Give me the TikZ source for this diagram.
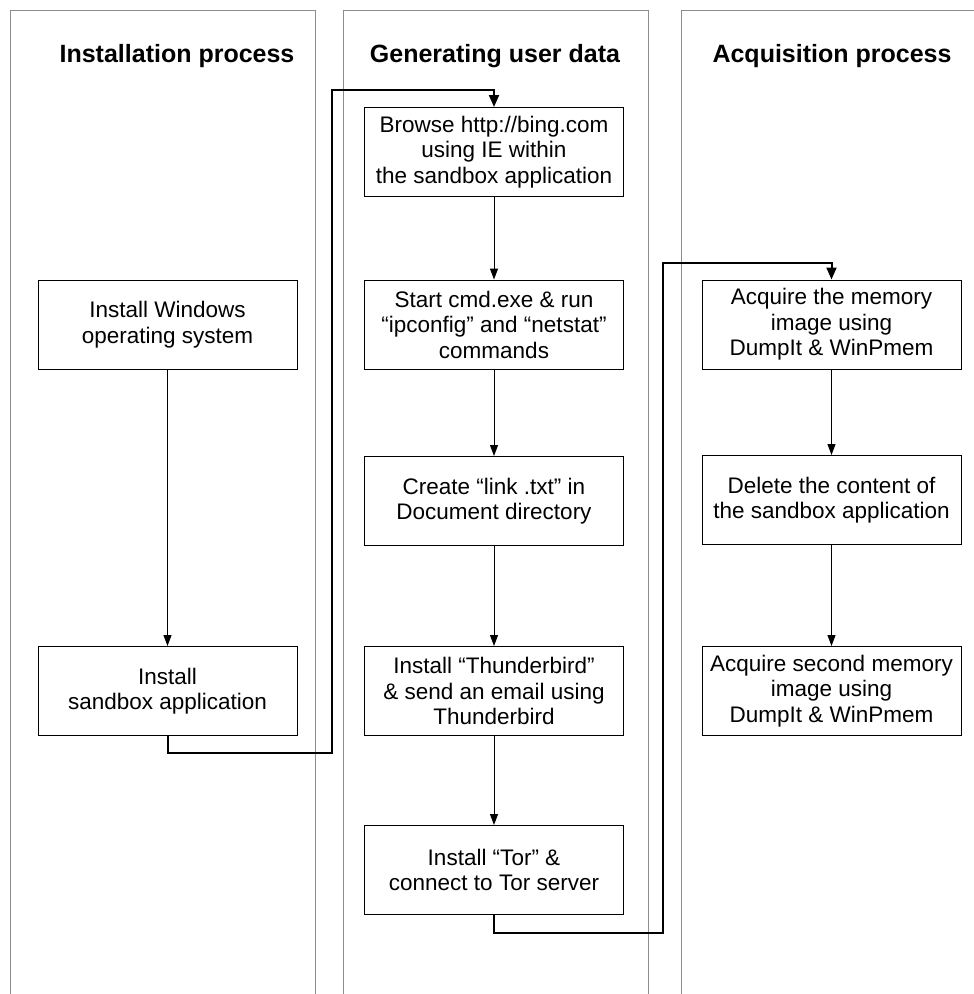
\documentclass[tikz,border=0pt]{standalone}
\usepackage{fontspec}
\setmainfont{Liberation Sans}
\usetikzlibrary{arrows.meta}
\begin{document}
\begin{tikzpicture}[x=1pt,y=-1pt,
  lane/.style={draw=black!45,line width=1pt},
  stepbox/.style={draw=black,line width=1pt,minimum width=259pt,minimum height=89pt,inner sep=0pt,align=center,font=\fontsize{22.5}{25.5}\selectfont},
  title/.style={font=\fontsize{25}{28}\selectfont\bfseries,inner sep=0pt},
  flow/.style={draw=black,line width=1pt,-{Triangle[length=11pt,width=8pt]}},
  link/.style={draw=black,line width=2pt,-{Triangle[length=12pt,width=10pt]},line join=miter}]
\useasboundingbox (0,0) rectangle (974,994);
% lanes
\draw[lane] (10,1000) -- (10,10) -- (315,10) -- (315,1000);
\draw[lane] (343,1000) -- (343,10) -- (648,10) -- (648,1000);
\draw[lane] (681,1000) -- (681,10) -- (990,10);
% titles
\node[title] (t1) at (177,56) {Installation process};
\node[title] (t2) at (495,56) {Generating user data};
\node[title] (t3) at (832,56) {Acquisition process};
% left
\node[stepbox] (L1) at (167.5,324.5) {Install Windows\\operating system};
\node[stepbox] (L2) at (167.5,691) {Install\\sandbox application};
% middle
\node[stepbox] (M1) at (494,152) {Browse http://bing.com\\using IE within\\the sandbox application};
\node[stepbox] (M2) at (494,324.5) {Start cmd.exe \& run\\“ipconfig” and “netstat”\\commands};
\node[stepbox] (M3) at (494,501) {Create “link .txt” in\\Document directory};
\node[stepbox] (M4) at (494,691) {Install “Thunderbird”\\\& send an email using\\Thunderbird};
\node[stepbox] (M5) at (494,870) {Install “Tor” \&\\connect to Tor server};
% right
\node[stepbox] (R1) at (831.5,324.5) {Acquire the memory\\image using\\DumpIt \& WinPmem};
\node[stepbox] (R2) at (831.5,500) {Delete the content of\\the sandbox application};
\node[stepbox] (R3) at (831.5,691) {Acquire second memory\\image using\\DumpIt \& WinPmem};
% flows
\draw[flow] (L1) -- (L2);
\draw[flow] (M1) -- (M2);
\draw[flow] (M2) -- (M3);
\draw[flow] (M3) -- (M4);
\draw[flow] (M4) -- (M5);
\draw[flow] (R1) -- (R2);
\draw[flow] (R2) -- (R3);
% links between lanes
\coordinate (a1) at (167.5,753);
\coordinate (a2) at (332,90);
\coordinate (b1) at (494,933);
\coordinate (b2) at (663,263);
\draw[link] (L2.south) -- (a1) -| (a2) -| (M1.north);
\draw[link] (M5.south) -- (b1) -| (b2) -| (R1.north);
\end{tikzpicture}
\end{document}
